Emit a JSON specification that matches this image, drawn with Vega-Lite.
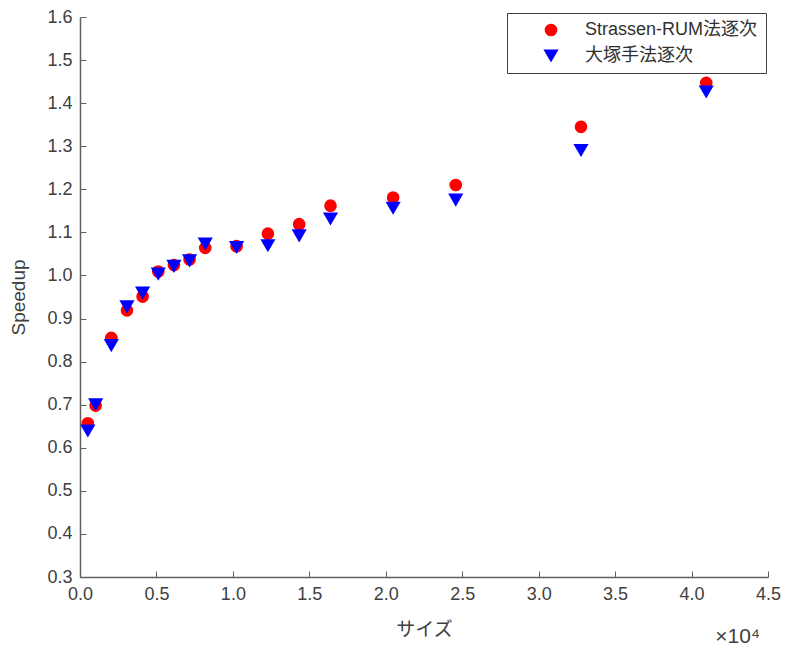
{
  "$schema": "https://vega.github.io/schema/vega-lite/v6.json",
  "width": 688,
  "height": 560,
  "autosize": {"type": "none"},
  "padding": {"left": 80, "top": 17, "right": 20, "bottom": 74},
  "background": "white",
  "title": {
    "text": "×10⁴",
    "orient": "bottom",
    "anchor": "end",
    "frame": "group",
    "offset": -13,
    "dx": -8,
    "fontSize": 21,
    "fontWeight": "normal",
    "font": "Liberation Sans",
    "color": "#404040"
  },
  "data": {
    "values": [
      {"size": 512, "speedup": 0.657, "method": "Strassen-RUM法逐次"},
      {"size": 1024, "speedup": 0.698, "method": "Strassen-RUM法逐次"},
      {"size": 2048, "speedup": 0.855, "method": "Strassen-RUM法逐次"},
      {"size": 3072, "speedup": 0.919, "method": "Strassen-RUM法逐次"},
      {"size": 4096, "speedup": 0.951, "method": "Strassen-RUM法逐次"},
      {"size": 5120, "speedup": 1.009, "method": "Strassen-RUM法逐次"},
      {"size": 6144, "speedup": 1.024, "method": "Strassen-RUM法逐次"},
      {"size": 7168, "speedup": 1.037, "method": "Strassen-RUM法逐次"},
      {"size": 8192, "speedup": 1.064, "method": "Strassen-RUM法逐次"},
      {"size": 10240, "speedup": 1.068, "method": "Strassen-RUM法逐次"},
      {"size": 12288, "speedup": 1.097, "method": "Strassen-RUM法逐次"},
      {"size": 14336, "speedup": 1.119, "method": "Strassen-RUM法逐次"},
      {"size": 16384, "speedup": 1.162, "method": "Strassen-RUM法逐次"},
      {"size": 20480, "speedup": 1.181, "method": "Strassen-RUM法逐次"},
      {"size": 24576, "speedup": 1.210, "method": "Strassen-RUM法逐次"},
      {"size": 32768, "speedup": 1.345, "method": "Strassen-RUM法逐次"},
      {"size": 40960, "speedup": 1.447, "method": "Strassen-RUM法逐次"},
      {"size": 512, "speedup": 0.639, "method": "大塚手法逐次"},
      {"size": 1024, "speedup": 0.700, "method": "大塚手法逐次"},
      {"size": 2048, "speedup": 0.837, "method": "大塚手法逐次"},
      {"size": 3072, "speedup": 0.927, "method": "大塚手法逐次"},
      {"size": 4096, "speedup": 0.959, "method": "大塚手法逐次"},
      {"size": 5120, "speedup": 1.003, "method": "大塚手法逐次"},
      {"size": 6144, "speedup": 1.021, "method": "大塚手法逐次"},
      {"size": 7168, "speedup": 1.034, "method": "大塚手法逐次"},
      {"size": 8192, "speedup": 1.073, "method": "大塚手法逐次"},
      {"size": 10240, "speedup": 1.065, "method": "大塚手法逐次"},
      {"size": 12288, "speedup": 1.069, "method": "大塚手法逐次"},
      {"size": 14336, "speedup": 1.092, "method": "大塚手法逐次"},
      {"size": 16384, "speedup": 1.131, "method": "大塚手法逐次"},
      {"size": 20480, "speedup": 1.156, "method": "大塚手法逐次"},
      {"size": 24576, "speedup": 1.175, "method": "大塚手法逐次"},
      {"size": 32768, "speedup": 1.290, "method": "大塚手法逐次"},
      {"size": 40960, "speedup": 1.426, "method": "大塚手法逐次"}
    ]
  },
  "mark": {"type": "point", "filled": true, "opacity": 1},
  "encoding": {
    "x": {
      "field": "size",
      "type": "quantitative",
      "scale": {"domain": [0, 45000], "nice": false, "zero": false},
      "axis": {
        "title": "サイズ",
        "values": [0, 5000, 10000, 15000, 20000, 25000, 30000, 35000, 40000, 45000],
        "labelExpr": "format(datum.value / 10000, '.1f')",
        "titleFont": "Noto Sans CJK JP",
        "titlePadding": 17
      }
    },
    "y": {
      "field": "speedup",
      "type": "quantitative",
      "scale": {"domain": [0.3, 1.6], "nice": false, "zero": false},
      "axis": {
        "title": "Speedup",
        "values": [0.3, 0.4, 0.5, 0.6, 0.7, 0.8, 0.9, 1.0, 1.1, 1.2, 1.3, 1.4, 1.5, 1.6],
        "format": ".1f",
        "titlePadding": 18
      }
    },
    "color": {
      "field": "method",
      "type": "nominal",
      "scale": {"domain": ["Strassen-RUM法逐次", "大塚手法逐次"], "range": ["#ff0000", "#0000ff"]},
      "legend": {"title": null, "orient": "none", "legendX": 427, "legendY": -4}
    },
    "shape": {
      "field": "method",
      "type": "nominal",
      "scale": {"domain": ["Strassen-RUM法逐次", "大塚手法逐次"], "range": ["circle", "triangle-down"]},
      "legend": {"title": null, "orient": "none", "legendX": 427, "legendY": -4}
    },
    "size": {
      "field": "method",
      "type": "nominal",
      "scale": {"domain": ["Strassen-RUM法逐次", "大塚手法逐次"], "range": [160, 230]},
      "legend": {"title": null, "orient": "none", "legendX": 427, "legendY": -4}
    }
  },
  "config": {
    "view": {"stroke": null},
    "font": "Liberation Sans",
    "axis": {
      "grid": false,
      "domainColor": "#606060",
      "domainWidth": 1.5,
      "tickColor": "#606060",
      "tickSize": -6,
      "labelFont": "Liberation Sans",
      "labelFontSize": 18,
      "labelColor": "#404040",
      "labelFlush": false,
      "labelOverlap": false,
      "titleFontSize": 19,
      "titleFontWeight": "normal",
      "titleColor": "#404040",
      "labelPadding": 14
    },
    "legend": {
      "strokeColor": "#404040",
      "fillColor": "white",
      "padding": 8,
      "rowPadding": 8,
      "symbolOffset": 27,
      "labelOffset": 25,
      "labelLimit": 400,
      "labelFont": "Liberation Sans, Noto Sans CJK JP",
      "labelFontSize": 18,
      "labelColor": "#303030",
      "symbolStrokeWidth": 0
    }
  }
}
